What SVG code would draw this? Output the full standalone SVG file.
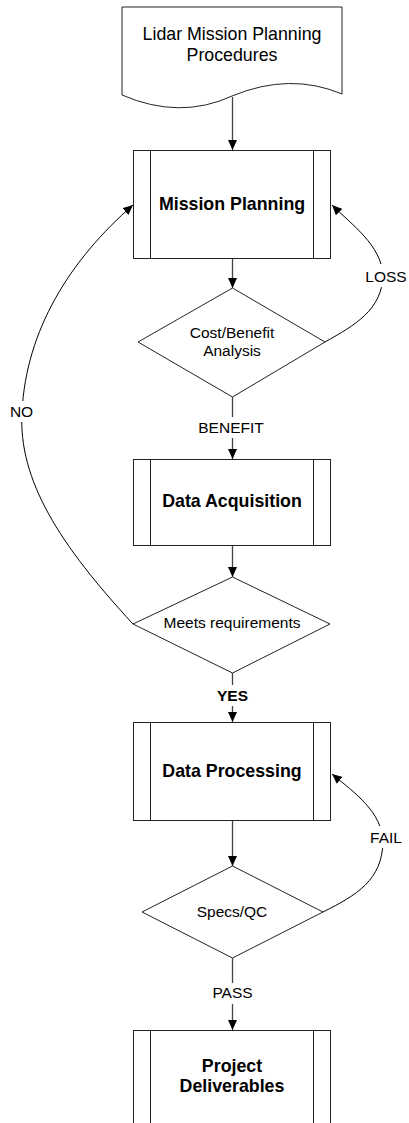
<svg xmlns="http://www.w3.org/2000/svg" width="409" height="1123" viewBox="0 0 409 1123">
  <style>
    .shape { fill: #fff; stroke: #222; stroke-width: 1; }
    .bar { fill: none; stroke: #222; stroke-width: 1; }
    .title { font-family: "Liberation Sans", Arial, sans-serif; font-size: 17.8px; font-weight: bold; text-anchor: middle; fill: #000; }
    .plain { font-family: "Liberation Sans", Arial, sans-serif; font-size: 17.8px; text-anchor: middle; fill: #000; }
    .small { font-family: "Liberation Sans", Arial, sans-serif; font-size: 15.5px; text-anchor: middle; fill: #000; }
    .bold { font-weight: bold; }
    .flow { fill: none; stroke: #444; stroke-width: 1.3; marker-end: url(#arrow); }
    .loop { fill: none; stroke: #000; stroke-width: 1; marker-end: url(#arrow); }
    .gap { fill: #fff; stroke: none; }
  </style>
  <defs>
    <marker id="arrow" viewBox="0 0 10 9" refX="10" refY="4.5" markerWidth="10" markerHeight="9" markerUnits="userSpaceOnUse" orient="auto">
      <path d="M0,0 L10,4.5 L0,9 Z" fill="#000"/>
    </marker>
  </defs>

  <rect x="0" y="0" width="409" height="1123" fill="#fff"/>

  <!-- connectors -->
  <g id="connectors">
    <path class="flow" d="M232.5,97 V150"/>
    <path class="flow" d="M232.5,259 V288"/>
    <path class="flow" d="M232.5,397 V459"/>
    <path class="flow" d="M232.5,546 V577"/>
    <path class="flow" d="M232.5,673 V722"/>
    <path class="flow" d="M232.5,821 V866"/>
    <path class="flow" d="M232.5,958 V1030"/>
    <!-- LOSS back to planning -->
    <path class="loop" d="M325,342 C355,325 382,310 383,275 C381,245 352,225 332,205"/>
    <!-- NO back to planning -->
    <path class="loop" d="M133,624 C60,545 18,480 22,412 C26,330 70,260 133,205"/>
    <!-- FAIL back to processing -->
    <path class="loop" d="M323,912 C357,895 382,880 383,842 C382,812 355,793 332,774"/>

    <rect class="gap" x="364" y="264" width="44" height="23"/>
    <text class="small" x="386" y="282">LOSS</text>
    <rect class="gap" x="9" y="401" width="26" height="21"/>
    <text class="small" x="21.5" y="417">NO</text>
    <rect class="gap" x="196" y="417" width="70" height="21"/>
    <text class="small" x="231" y="433">BENEFIT</text>
    <rect class="gap" x="212" y="685" width="41" height="21"/>
    <text class="small bold" x="232.5" y="701">YES</text>
    <rect class="gap" x="368" y="826" width="36" height="22"/>
    <text class="small" x="386" y="843">FAIL</text>
    <rect class="gap" x="209" y="983" width="47" height="21"/>
    <text class="small" x="232.5" y="998">PASS</text>
  </g>

  <!-- document: procedures -->
  <g id="procedures">
    <path class="shape" d="M122,7 H342 V94 Q290,72 232,96 Q180,120 122,95 Z"/>
    <text class="plain" x="232" y="40">Lidar Mission Planning</text>
    <text class="plain" x="232" y="61">Procedures</text>
  </g>

  <!-- predefined process: mission planning -->
  <g id="mission-planning">
    <rect class="shape" x="133.5" y="150.5" width="197" height="108"/>
    <path class="bar" d="M150.5,150.5 V258.5 M313.5,150.5 V258.5"/>
    <text class="title" x="232" y="210">Mission Planning</text>
  </g>

  <!-- decision: cost/benefit -->
  <g id="cost-benefit">
    <path class="shape" d="M232.5,288 L325,342 L232.5,397 L138,342 Z"/>
    <text class="small" x="232" y="338">Cost/Benefit</text>
    <text class="small" x="232" y="356">Analysis</text>
  </g>

  <!-- predefined process: data acquisition -->
  <g id="data-acquisition">
    <rect class="shape" x="133.5" y="459.5" width="197" height="86"/>
    <path class="bar" d="M150.5,459.5 V545.5 M313.5,459.5 V545.5"/>
    <text class="title" x="232" y="507">Data Acquisition</text>
  </g>

  <!-- decision: requirements -->
  <g id="meets-requirements">
    <path class="shape" d="M232.5,577 L330,624 L232.5,673 L133,624 Z"/>
    <text class="small" x="232" y="628">Meets requirements</text>
  </g>

  <!-- predefined process: data processing -->
  <g id="data-processing">
    <rect class="shape" x="133.5" y="722.5" width="197" height="98"/>
    <path class="bar" d="M150.5,722.5 V820.5 M313.5,722.5 V820.5"/>
    <text class="title" x="232" y="777">Data Processing</text>
  </g>

  <!-- decision: specs / QC -->
  <g id="specs-qc">
    <path class="shape" d="M232.5,866 L323,912 L232.5,958 L142,912 Z"/>
    <text class="small" x="232" y="917">Specs/QC</text>
  </g>

  <!-- predefined process: deliverables -->
  <g id="project-deliverables">
    <rect class="shape" x="133.5" y="1030.5" width="197" height="110"/>
    <path class="bar" d="M150.5,1030.5 V1140 M313.5,1030.5 V1140"/>
    <text class="title" x="232" y="1072">Project</text>
    <text class="title" x="232" y="1092">Deliverables</text>
  </g>
</svg>
